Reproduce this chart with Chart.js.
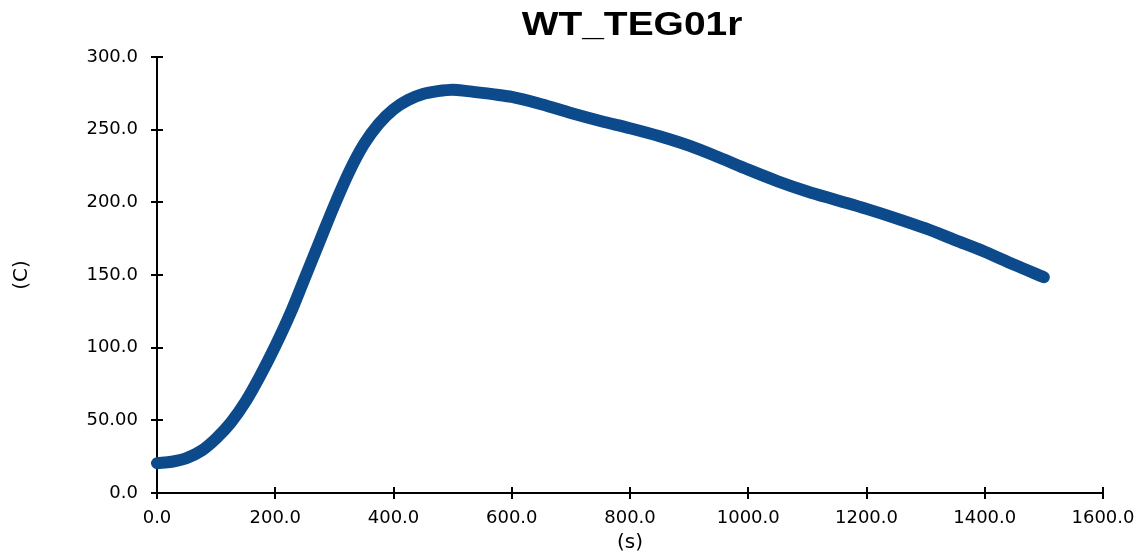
<!DOCTYPE html>
<html>
<head>
<meta charset="utf-8">
<title>WT_TEG01r</title>
<script src="https://cdn.jsdelivr.net/npm/chart.js@4.4.1/dist/chart.umd.min.js"></script>
<style>
  html, body { margin: 0; padding: 0; background: #fff; }
  #wrap { width: 1145px; height: 557px; }
</style>
</head>
<body>
<div id="wrap"><canvas id="tempChart"></canvas></div>
<script>
// Temperature trace, time in seconds vs. temperature in C
const timeS = [0, 25, 50, 75, 100, 125, 150, 175, 200, 225, 250, 275, 300, 325, 350, 375,
  400, 425, 450, 475, 500, 525, 550, 575, 600, 650, 700, 750, 800, 850, 900, 950,
  1000, 1050, 1100, 1150, 1200, 1250, 1300, 1350, 1400, 1450, 1500];
const tempC = [20.5, 21.5, 24, 29, 37.5, 48.5, 63, 81, 101, 123, 148, 173, 198, 221, 240, 254,
  264, 270.5, 274.5, 276.5, 277.5, 276.5, 275.3, 274, 272.5, 267.5, 261.5, 256, 251, 245.5, 239, 231,
  222.5, 214.5, 207.5, 201.5, 195.5, 189, 182, 174, 166, 157, 148.5];

const xTicks = [0, 200, 400, 600, 800, 1000, 1200, 1400, 1600];
const xTickLabels = ['0.0', '200.0', '400.0', '600.0', '800.0', '1000.0', '1200.0', '1400.0', '1600.0'];
const yTicks = [0, 50, 100, 150, 200, 250, 300];
const yTickLabels = ['0.0', '50.00', '100.0', '150.0', '200.0', '250.0', '300.0'];

const chartTitle = 'WT_TEG01r';
const xTitle = '(s)';
const yTitle = '(C)';

const points = timeS.map((t, i) => ({ x: t, y: tempC[i] }));
const tickFont = { family: 'DejaVu Sans', size: 18 };

// tick marks that cross the axis line, plus the title over the plot area
const axisDecor = {
  id: 'axisDecor',
  beforeDatasetsDraw(chart) {
    const { ctx, chartArea, scales } = chart;
    ctx.save();
    ctx.strokeStyle = '#000';
    ctx.lineWidth = 2;
    ctx.beginPath();
    xTicks.forEach(v => {
      const px = Math.round(scales.x.getPixelForValue(v));
      ctx.moveTo(px, chartArea.bottom - 6);
      ctx.lineTo(px, chartArea.bottom + 6);
    });
    yTicks.forEach(v => {
      const py = Math.round(scales.y.getPixelForValue(v));
      ctx.moveTo(chartArea.left - 6, py);
      ctx.lineTo(chartArea.left + 6, py);
    });
    ctx.stroke();
    ctx.restore();
  },
  afterDraw(chart) {
    const { ctx, chartArea } = chart;
    const cx = (chartArea.left + chartArea.right) / 2 + 2;
    ctx.save();
    ctx.translate(cx, 26);
    ctx.scale(1.18, 1);
    ctx.font = 'bold 33px "Liberation Sans", Arial, sans-serif';
    ctx.fillStyle = '#000';
    ctx.textAlign = 'center';
    ctx.textBaseline = 'middle';
    ctx.fillText(chartTitle, 0, 0);
    ctx.restore();
  }
};

new Chart(document.getElementById('tempChart').getContext('2d'), {
  type: 'line',
  data: {
    datasets: [{
      data: points,
      borderColor: '#0c4a8b',
      backgroundColor: '#0c4a8b',
      borderWidth: 12,
      borderCapStyle: 'round',
      borderJoinStyle: 'round',
      cubicInterpolationMode: 'monotone',
      pointRadius: 0,
      fill: false,
      clip: false
    }]
  },
  options: {
    responsive: true,
    maintainAspectRatio: false,
    animation: false,
    layout: { padding: { top: 57, right: 42, left: 0, bottom: 0 } },
    plugins: {
      legend: { display: false },
      title: { display: false },
      tooltip: { enabled: false }
    },
    scales: {
      x: {
        type: 'linear',
        min: 0,
        max: 1600,
        afterBuildTicks: s => { s.ticks = xTicks.map(v => ({ value: v })); },
        afterFit: s => { s.height = 64; s.paddingLeft = 0; s.paddingRight = 0; },
        grid: { display: false, drawTicks: false },
        border: { display: true, color: '#000', width: 2 },
        ticks: {
          color: '#000',
          font: tickFont,
          padding: 15,
          maxRotation: 0,
          callback: (v, i) => xTickLabels[i]
        },
        title: {
          display: true,
          text: xTitle,
          color: '#000',
          font: { family: 'DejaVu Sans', size: 20 },
          padding: { top: 0, bottom: 2 }
        }
      },
      y: {
        min: 0,
        max: 300,
        afterBuildTicks: s => { s.ticks = yTicks.map(v => ({ value: v })); },
        afterFit: s => { s.width = 157; },
        grid: { display: false, drawTicks: false },
        border: { display: true, color: '#000', width: 2 },
        ticks: {
          color: '#000',
          font: tickFont,
          padding: 19,
          callback: (v, i) => yTickLabels[i]
        },
        title: {
          display: true,
          text: yTitle,
          color: '#000',
          font: { family: 'DejaVu Sans', size: 20 },
          padding: { top: 10, bottom: 0 }
        }
      }
    }
  },
  plugins: [axisDecor]
});
</script>
</body>
</html>
